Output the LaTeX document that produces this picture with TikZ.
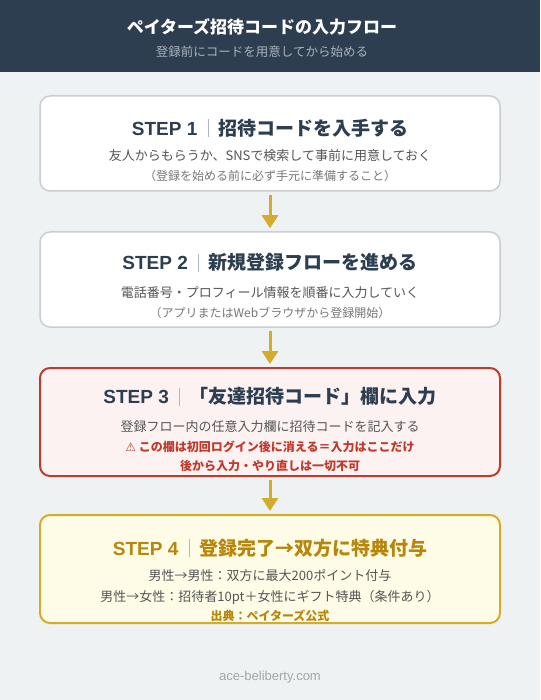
\documentclass[tikz,border=0pt]{standalone}
\usepackage{fontspec}
\setmainfont{Noto Sans CJK JP}
\newfontfamily\symfont{DejaVu Sans}
\newfontfamily\latfont{Liberation Sans}
\usetikzlibrary{arrows.meta}
\definecolor{bgc}{HTML}{EEF2F3}
\definecolor{headc}{HTML}{2C3E50}
\definecolor{subc}{HTML}{A9B3BC}
\definecolor{bodyc}{HTML}{555555}
\definecolor{smallc}{HTML}{777777}
\definecolor{greyb}{HTML}{C8CED2}
\definecolor{redc}{HTML}{C0392B}
\definecolor{redfill}{HTML}{FDF2F2}
\definecolor{goldc}{HTML}{D4AC2B}
\definecolor{goldfill}{HTML}{FEFBE7}
\definecolor{goldtxt}{HTML}{B8860B}
\definecolor{barc}{HTML}{B0B8BF}
\definecolor{footc}{HTML}{A0A6AB}
\newcommand{\stepbar}{\hspace{0.55em}{\color{barc}\rule[-0.12em]{0.7pt}{0.95em}}\hspace{0.5em}}
\newcommand{\steplab}[1]{{\latfont\bfseries STEP #1}}
\tikzset{
  stepbox/.style={rounded corners=10pt, minimum width=460pt, inner sep=0pt},
  plainbox/.style={stepbox, draw=greyb, line width=1.5pt, fill=white, minimum height=95pt},
  flowarrow/.style={draw=goldc, line width=3pt, -{Triangle[width=16pt,length=13pt]}, shorten <=3pt, shorten >=3pt},
  ttl/.style={font=\fontsize{19}{22}\selectfont\bfseries, text=headc, inner sep=0pt},
  body/.style={font=\fontsize{13}{15}\selectfont, text=bodyc, inner sep=0pt},
  small/.style={font=\fontsize{12}{14}\selectfont, text=smallc, inner sep=0pt},
  warn/.style={font=\fontsize{12}{14}\selectfont\bfseries, text=redc, inner sep=0pt},
}
\begin{document}
\begin{tikzpicture}[x=1pt,y=-1pt]
\useasboundingbox (0,0) rectangle (540,700);
\fill[bgc] (0,0) rectangle (540,700);
\fill[headc] (0,0) rectangle (540,72);
\node[font=\fontsize{17}{20}\selectfont\bfseries, text=white, inner sep=0pt] (htitle) at (262,27) {ペイターズ招待コードの入力フロー};
\node[font=\fontsize{12.5}{15}\selectfont, text=subc, inner sep=0pt] (hsub) at (262,52) {登録前にコードを用意してから始める};

% boxes
\node[plainbox] (b1) at (270,143.5) {};
\node[plainbox] (b2) at (270,279.5) {};
\node[stepbox, draw=redc, line width=2pt, fill=redfill, minimum height=108pt] (b3) at (270,422) {};
\node[stepbox, draw=goldc, line width=2pt, fill=goldfill, minimum height=108pt] (b4) at (270,569) {};

% arrows
\draw[flowarrow] (b1.south) -- (b2.north);
\draw[flowarrow] (b2.south) -- (b3.north);
\draw[flowarrow] (b3.south) -- (b4.north);

% box 1
\node[ttl] (t1) at (270,128) {\steplab{1}\stepbar 招待コードを入手する};
\node[body] (l1a) at (270,156) {友人からもらうか、SNSで検索して事前に用意しておく};
\node[small] (l1b) at (270,175.5) {（登録を始める前に必ず手元に準備すること）};

% box 2
\node[ttl] (t2) at (270,263) {\steplab{2}\stepbar 新規登録フローを進める};
\node[body] (l2a) at (270,293) {電話番号・プロフィール情報を順番に入力していく};
\node[small] (l2b) at (270,312.5) {（アプリまたはWebブラウザから登録開始）};

% box 3
\node[ttl] (t3) at (270,397) {\steplab{3}\stepbar 「友達招待コード」欄に入力};
\node[body] (l3a) at (270,427) {登録フロー内の任意入力欄に招待コードを記入する};
\node[warn] (l3b) at (270,447) {{\symfont ⚠} この欄は初回ログイン後に消える＝入力はここだけ};
\node[warn] (l3c) at (270,466) {後から入力・やり直しは一切不可};

% box 4
\node[ttl, text=goldtxt] (t4) at (270,548) {\steplab{4}\stepbar 登録完了→双方に特典付与};
\node[body] (l4a) at (270,576) {男性→男性：双方に最大200ポイント付与};
\node[body] (l4b) at (270,597) {男性→女性：招待者10pt＋女性にギフト特典（条件あり）};
\node[font=\fontsize{12}{14}\selectfont\bfseries, text=goldtxt, inner sep=0pt] (l4c) at (270,615.5) {出典：ペイターズ公式};

% footer
\node[font=\latfont\fontsize{13}{15}\selectfont, text=footc, inner sep=0pt] (foot) at (270,677) {ace-beliberty.com};
\end{tikzpicture}
\end{document}
